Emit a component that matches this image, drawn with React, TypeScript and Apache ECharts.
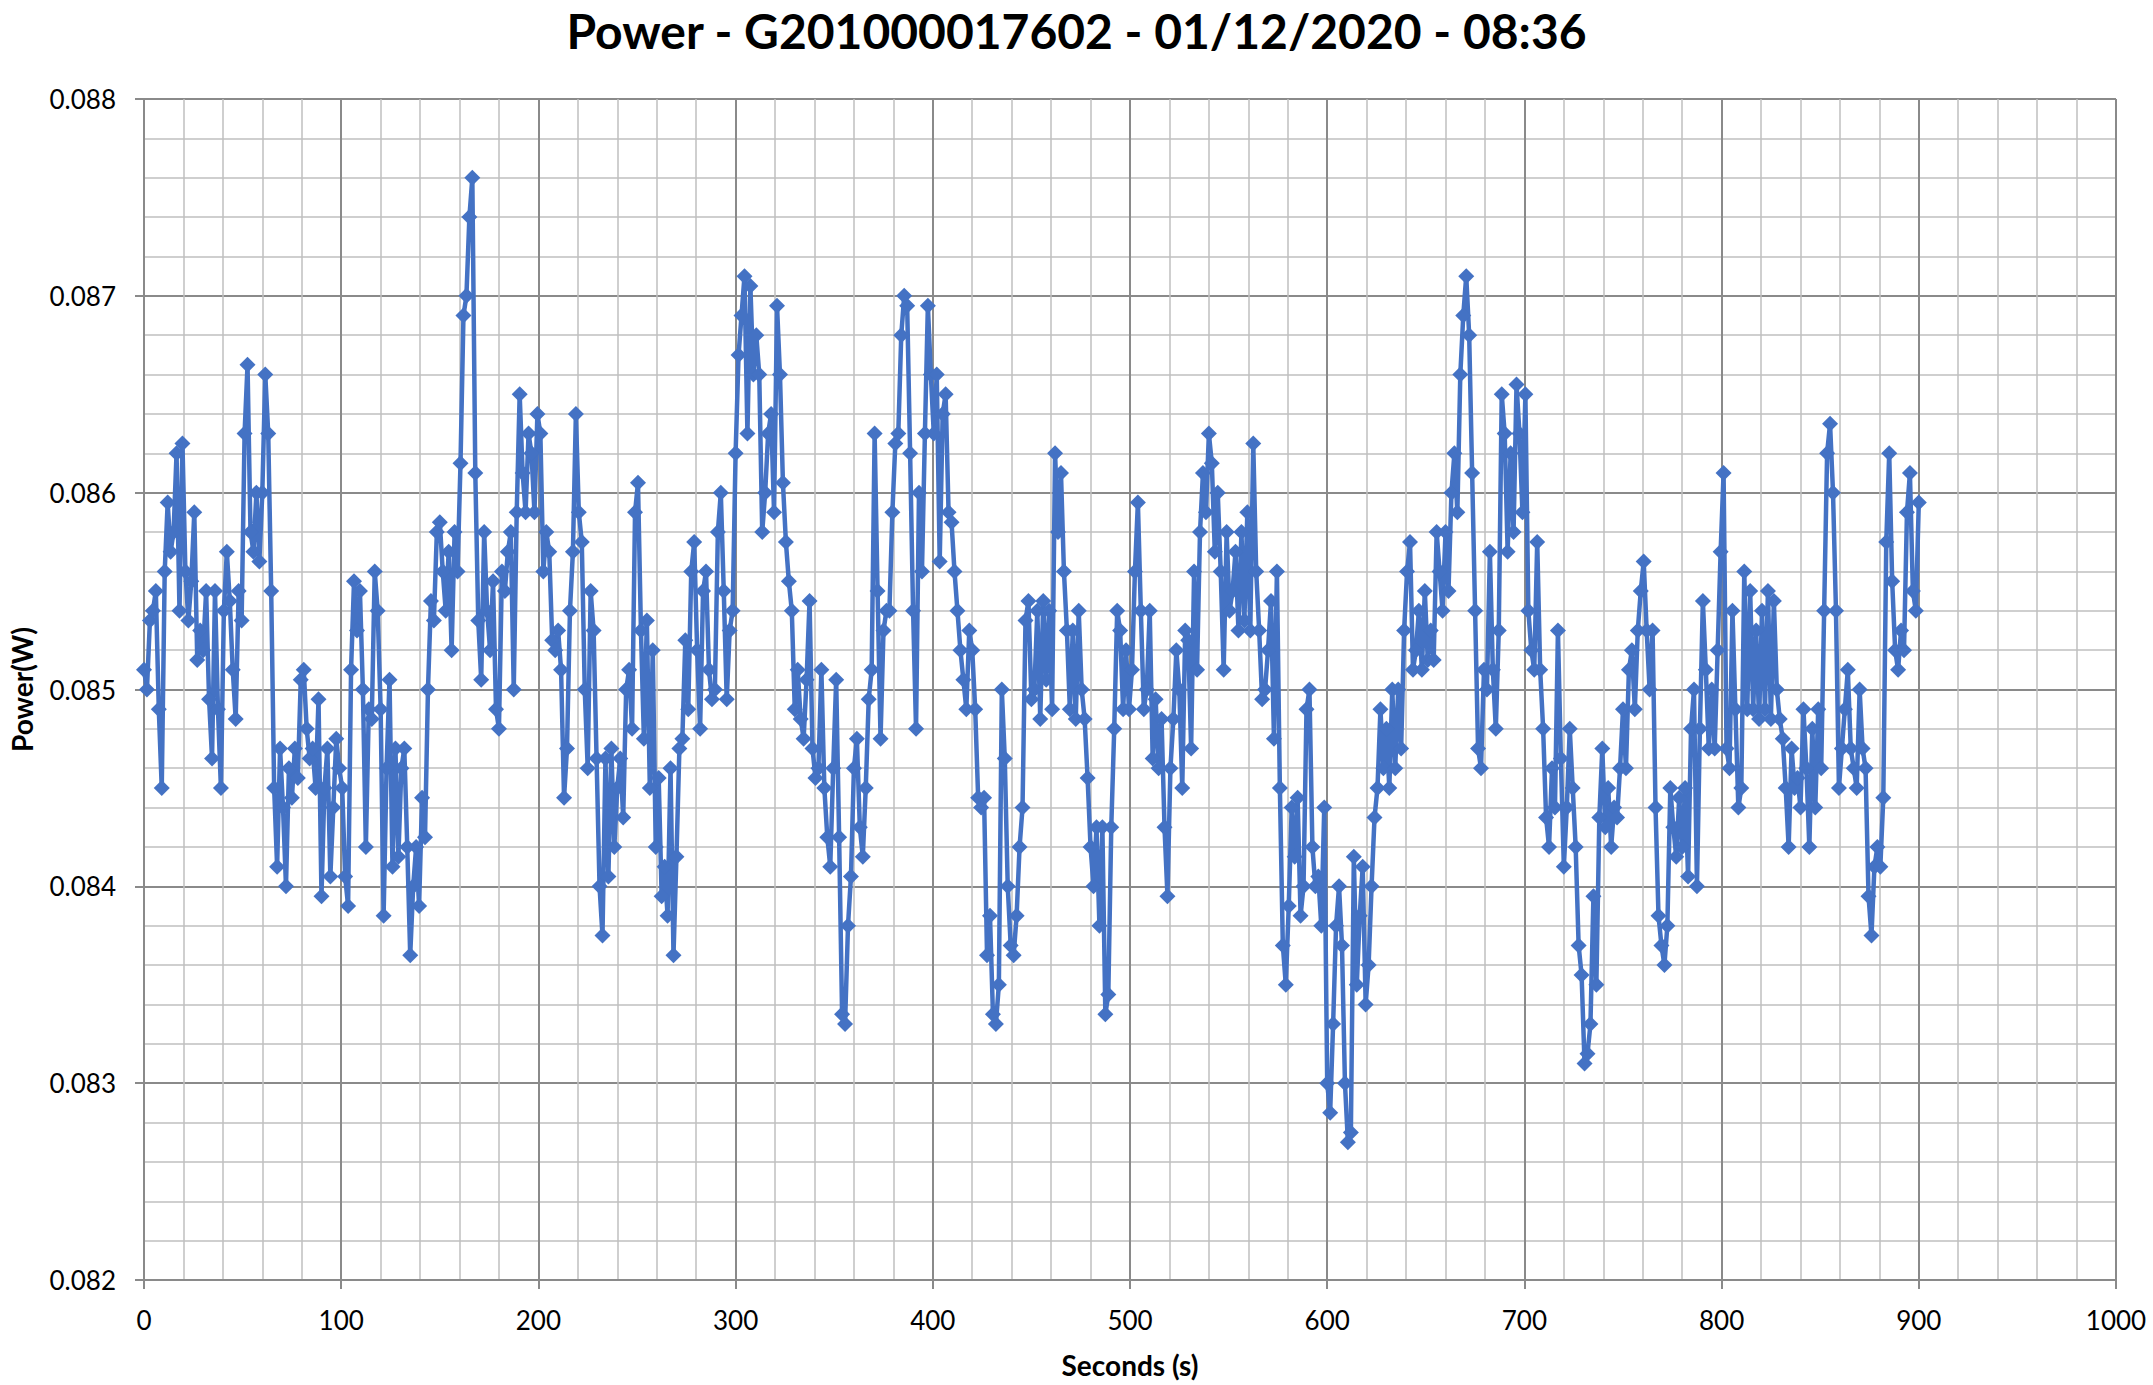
import React, { useEffect, useRef } from "react";
import * as echarts from "echarts";

const TITLE = "Power - G201000017602 - 01/12/2020 - 08:36";
const X_NAME = "Seconds (s)";
const Y_NAME = "Power(W)";
const SAMPLE_INTERVAL_S = 1.5;

// Power readings in milliwatts, one every 1.5 s.
const powerMilliwatts: number[] = [
  // 0 - 28.5 s
  85.1, 85.0, 85.35, 85.4, 85.5, 84.9, 84.5, 85.6, 85.95, 85.7, 85.8, 86.2, 85.4, 86.25, 85.6, 85.35, 85.55, 85.9, 85.15, 85.3,
  // 30 - 58.5 s
  85.2, 85.5, 84.95, 84.65, 85.5, 84.9, 84.5, 85.4, 85.7, 85.45, 85.1, 84.85, 85.5, 85.35, 86.3, 86.65, 85.8, 85.7, 86.0, 85.65,
  // 60 - 88.5 s
  86.0, 86.6, 86.3, 85.5, 84.5, 84.1, 84.7, 84.4, 84.0, 84.6, 84.45, 84.7, 84.55, 85.05, 85.1, 84.8, 84.65, 84.7, 84.5, 84.95,
  // 90 - 118.5 s
  83.95, 84.5, 84.7, 84.05, 84.4, 84.75, 84.6, 84.5, 84.05, 83.9, 85.1, 85.55, 85.3, 85.5, 85.0, 84.2, 84.9, 84.85, 85.6, 85.4,
  // 120 - 148.5 s
  84.9, 83.85, 84.6, 85.05, 84.1, 84.7, 84.15, 84.6, 84.7, 84.2, 83.65, 84.0, 84.2, 83.9, 84.45, 84.25, 85.0, 85.45, 85.35, 85.8,
  // 150 - 178.5 s
  85.85, 85.6, 85.4, 85.7, 85.2, 85.8, 85.6, 86.15, 86.9, 87.0, 87.4, 87.6, 86.1, 85.35, 85.05, 85.8, 85.4, 85.2, 85.55, 84.9,
  // 180 - 208.5 s
  84.8, 85.6, 85.5, 85.7, 85.8, 85.0, 85.9, 86.5, 86.1, 85.9, 86.3, 86.2, 85.9, 86.4, 86.3, 85.6, 85.8, 85.7, 85.25, 85.2,
  // 210 - 238.5 s
  85.3, 85.1, 84.45, 84.7, 85.4, 85.7, 86.4, 85.9, 85.75, 85.0, 84.6, 85.5, 85.3, 84.65, 84.0, 83.75, 84.65, 84.05, 84.7, 84.2,
  // 240 - 268.5 s
  84.5, 84.65, 84.35, 85.0, 85.1, 84.8, 85.9, 86.05, 85.3, 84.75, 85.35, 84.5, 85.2, 84.2, 84.55, 83.95, 84.1, 83.85, 84.6, 83.65,
  // 270 - 298.5 s
  84.15, 84.7, 84.75, 85.25, 84.9, 85.6, 85.75, 85.2, 84.8, 85.5, 85.6, 85.1, 84.95, 85.0, 85.8, 86.0, 85.5, 84.95, 85.3, 85.4,
  // 300 - 328.5 s
  86.2, 86.7, 86.9, 87.1, 86.3, 87.05, 86.6, 86.8, 86.6, 85.8, 86.0, 86.3, 86.4, 85.9, 86.95, 86.6, 86.05, 85.75, 85.55, 85.4,
  // 330 - 358.5 s
  84.9, 85.1, 84.85, 84.75, 85.05, 85.45, 84.7, 84.55, 84.6, 85.1, 84.5, 84.25, 84.1, 84.6, 85.05, 84.25, 83.35, 83.3, 83.8, 84.05,
  // 360 - 388.5 s
  84.6, 84.75, 84.3, 84.15, 84.5, 84.95, 85.1, 86.3, 85.5, 84.75, 85.3, 85.4, 85.4, 85.9, 86.25, 86.3, 86.8, 87.0, 86.95, 86.2,
  // 390 - 418.5 s
  85.4, 84.8, 86.0, 85.6, 86.3, 86.95, 86.6, 86.3, 86.6, 85.65, 86.4, 86.5, 85.9, 85.85, 85.6, 85.4, 85.2, 85.05, 84.9, 85.3,
  // 420 - 448.5 s
  85.2, 84.9, 84.45, 84.4, 84.45, 83.65, 83.85, 83.35, 83.3, 83.5, 85.0, 84.65, 84.0, 83.7, 83.65, 83.85, 84.2, 84.4, 85.35, 85.45,
  // 450 - 478.5 s
  84.95, 85.0, 85.4, 84.85, 85.45, 85.05, 85.4, 84.9, 86.2, 85.8, 86.1, 85.6, 85.3, 84.9, 85.3, 84.85, 85.4, 85.0, 84.85, 84.55,
  // 480 - 508.5 s
  84.2, 84.0, 84.3, 83.8, 84.3, 83.35, 83.45, 84.3, 84.8, 85.4, 85.3, 84.9, 85.2, 84.9, 85.1, 85.6, 85.95, 85.4, 84.9, 85.0,
  // 510 - 538.5 s
  85.4, 84.65, 84.95, 84.6, 84.85, 84.3, 83.95, 84.6, 84.85, 85.2, 85.0, 84.5, 85.3, 85.25, 84.7, 85.6, 85.1, 85.8, 86.1, 85.9,
  // 540 - 568.5 s
  86.3, 86.15, 85.7, 86.0, 85.6, 85.1, 85.8, 85.4, 85.5, 85.7, 85.3, 85.8, 85.35, 85.9, 85.3, 86.25, 85.6, 85.3, 84.95, 85.0,
  // 570 - 598.5 s
  85.2, 85.45, 84.75, 85.6, 84.5, 83.7, 83.5, 83.9, 84.4, 84.15, 84.45, 83.85, 84.0, 84.9, 85.0, 84.2, 84.0, 84.05, 83.8, 84.4,
  // 600 - 628.5 s
  83.0, 82.85, 83.3, 83.8, 84.0, 83.7, 83.0, 82.7, 82.75, 84.15, 83.5, 83.85, 84.1, 83.4, 83.6, 84.0, 84.35, 84.5, 84.9, 84.6,
  // 630 - 658.5 s
  84.8, 84.5, 85.0, 84.6, 85.0, 84.7, 85.3, 85.6, 85.75, 85.1, 85.2, 85.4, 85.1, 85.5, 85.15, 85.3, 85.15, 85.8, 85.6, 85.4,
  // 660 - 688.5 s
  85.8, 85.5, 86.0, 86.2, 85.9, 86.6, 86.9, 87.1, 86.8, 86.1, 85.4, 84.7, 84.6, 85.1, 85.0, 85.7, 85.1, 84.8, 85.3, 86.5,
  // 690 - 718.5 s
  86.3, 85.7, 86.2, 85.8, 86.55, 86.3, 85.9, 86.5, 85.4, 85.2, 85.1, 85.75, 85.1, 84.8, 84.35, 84.2, 84.6, 84.4, 85.3, 84.65,
  // 720 - 748.5 s
  84.1, 84.4, 84.8, 84.5, 84.2, 83.7, 83.55, 83.1, 83.15, 83.3, 83.95, 83.5, 84.35, 84.7, 84.3, 84.5, 84.2, 84.4, 84.35, 84.6,
  // 750 - 778.5 s
  84.9, 84.6, 85.1, 85.2, 84.9, 85.3, 85.5, 85.65, 85.3, 85.0, 85.3, 84.4, 83.85, 83.7, 83.6, 83.8, 84.5, 84.3, 84.15, 84.45,
  // 780 - 808.5 s
  84.2, 84.5, 84.05, 84.8, 85.0, 84.0, 84.8, 85.45, 85.1, 84.7, 85.0, 84.7, 85.2, 85.7, 86.1, 84.7, 84.6, 85.4, 84.9, 84.4,
  // 810 - 838.5 s
  84.5, 85.6, 84.9, 85.5, 84.9, 85.3, 84.85, 85.4, 84.9, 85.5, 84.85, 85.45, 85.0, 84.85, 84.75, 84.5, 84.2, 84.7, 84.5, 84.55,
  // 840 - 868.5 s
  84.4, 84.9, 84.6, 84.2, 84.8, 84.4, 84.9, 84.6, 85.4, 86.2, 86.35, 86.0, 85.4, 84.5, 84.7, 84.9, 85.1, 84.7, 84.6, 84.5,
  // 870 - 898.5 s
  85.0, 84.7, 84.6, 83.95, 83.75, 84.1, 84.2, 84.1, 84.45, 85.75, 86.2, 85.55, 85.2, 85.1, 85.3, 85.2, 85.9, 86.1, 85.5, 85.4,
  // 900 s
  85.95,
];

const xTicks = { min: 0, max: 1000, interval: 100 };
const yTicks = { min: 0.082, max: 0.088, interval: 0.001 };

const FONT = "Lato, 'Open Sans', sans-serif";
const MAJOR_GRID = "#8a8a8a";
const MINOR_GRID = "#bfbfbf";

export default function App() {
  const ref = useRef<HTMLDivElement>(null);

  useEffect(() => {
    document.body.style.margin = "0";
    document.body.style.overflow = "hidden";
    if (!ref.current) return;
    const chart = echarts.init(ref.current, undefined, { renderer: "svg" });
    const seriesData = powerMilliwatts.map((mw, i) => [i * SAMPLE_INTERVAL_S, mw / 1000]);

    chart.setOption({
      animation: false,
      backgroundColor: "#ffffff",
      title: {
        text: TITLE,
        left: "center",
        top: 1,
        textStyle: { fontFamily: FONT, fontWeight: "bold", fontSize: 48, color: "#000000" },
      },
      grid: { left: 143, right: 37, top: 99, bottom: 105, containLabel: false },
      xAxis: {
        type: "value",
        min: xTicks.min,
        max: xTicks.max,
        interval: xTicks.interval,
        name: X_NAME,
        nameLocation: "middle",
        nameGap: 71,
        nameTextStyle: { fontFamily: FONT, fontWeight: "bold", fontSize: 28, color: "#000" },
        axisLine: { show: true, lineStyle: { color: MAJOR_GRID, width: 2 } },
        axisTick: { show: true, inside: false, length: 9, lineStyle: { color: MAJOR_GRID, width: 2 } },
        minorTick: { show: false, splitNumber: 5 },
        axisLabel: {
          fontFamily: FONT,
          fontSize: 26,
          color: "#000",
          margin: 27,
          formatter: (v: number) => String(Math.round(v)),
        },
        splitLine: { show: true, lineStyle: { color: MAJOR_GRID, width: 2 } },
        minorSplitLine: { show: true, lineStyle: { color: MINOR_GRID, width: 1.5 } },
      },
      yAxis: {
        type: "value",
        min: yTicks.min,
        max: yTicks.max,
        interval: yTicks.interval,
        name: Y_NAME,
        nameLocation: "middle",
        nameGap: 108,
        nameRotate: 90,
        nameTextStyle: { fontFamily: FONT, fontWeight: "bold", fontSize: 28, color: "#000" },
        axisLine: { show: true, lineStyle: { color: MAJOR_GRID, width: 2 } },
        axisTick: { show: true, inside: false, length: 9, lineStyle: { color: MAJOR_GRID, width: 2 } },
        minorTick: { show: false, splitNumber: 5 },
        axisLabel: {
          fontFamily: FONT,
          fontSize: 26,
          color: "#000",
          margin: 28,
          formatter: (v: number) => v.toFixed(3),
        },
        splitLine: { show: true, lineStyle: { color: MAJOR_GRID, width: 2 } },
        minorSplitLine: { show: true, lineStyle: { color: MINOR_GRID, width: 1.5 } },
      },
      series: [
        {
          type: "line",
          data: seriesData,
          symbol: "diamond",
          symbolSize: 16,
          showAllSymbol: true,
          itemStyle: { color: "#4472C4" },
          lineStyle: { color: "#4472C4", width: 4.5 },
        },
      ],
    });

    return () => chart.dispose();
  }, []);

  return <div ref={ref} style={{ width: 2153, height: 1385 }} />;
}
